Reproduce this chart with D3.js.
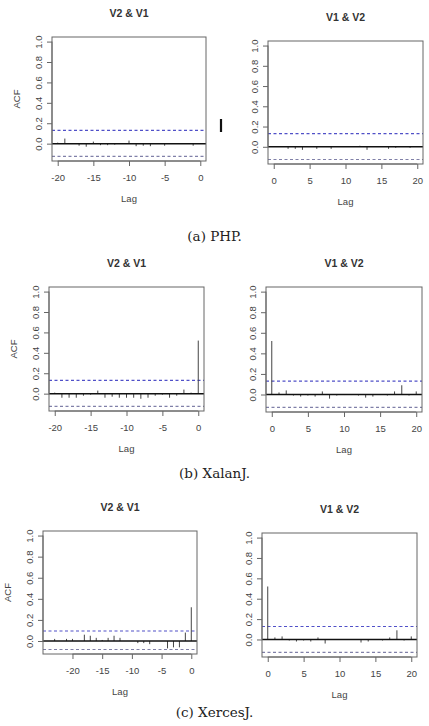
<!DOCTYPE html>
<html><head><meta charset="utf-8">
<script src="https://cdn.jsdelivr.net/npm/d3@7"></script>
<style>
html,body{margin:0;padding:0;background:#fff;}
svg{display:block;}
</style></head>
<body>
<svg id="chart" width="429" height="726"></svg>
<script>
// ---- data ----
const captions = ["(a) PHP.", "(b) XalanJ.", "(c) XercesJ."];
const titles = ["V2 & V1", "V1 & V2"];
const lagsNeg20 = d3.range(-20, 1);
const lagsPos20 = d3.range(0, 21);
const lagsNeg24 = d3.range(-24, 1);
const ticksNeg = [-20, -15, -10, -5, 0];
const ticksPos = [0, 5, 10, 15, 20];
const yTicks = [0, 0.2, 0.4, 0.6, 0.8, 1.0];

const phpV2V1 = [0.01, 0.05, 0.005, -0.02, -0.03, 0.02, -0.015, -0.015, -0.01, 0, 0.03, -0.025, -0.02, -0.025, 0, -0.02, 0, 0, 0, -0.02, 0.005];
const phpV1V2 = [0.005, 0, -0.02, -0.02, -0.03, 0, -0.02, 0, -0.02, 0, 0, 0, 0.01, -0.03, 0, 0, -0.02, -0.01, 0, -0.01, 0];
const xalanV2V1 = [0.01, -0.04, -0.04, -0.04, -0.02, -0.01, 0.03, -0.04, -0.03, -0.04, -0.04, -0.04, -0.05, -0.04, -0.02, -0.01, -0.04, -0.02, 0.04, 0.01, 0.52];
const xalanV1V2 = [0.52, 0.02, 0.04, -0.01, -0.02, -0.01, -0.02, 0.03, -0.04, -0.01, -0.005, -0.005, -0.01, -0.03, -0.02, -0.005, -0.01, 0.03, 0.09, -0.01, 0.03];
const xercesV2V1 = [0, 0.02, 0, 0.02, 0.02, 0, 0.06, 0.05, 0.03, 0.01, 0.03, 0.05, 0.03, 0, 0, -0.02, -0.02, -0.03, 0, 0, -0.07, -0.06, -0.06, 0.08, 0.32];
const xercesV1V2 = [0.52, 0.02, 0.03, -0.01, -0.02, -0.01, -0.02, 0.02, -0.04, 0, 0, 0, 0, -0.03, -0.02, 0, -0.01, 0.02, 0.09, -0.01, 0.03];
const ciUpper = [0.13, 0.13, 0.13, 0.13, 0.095, 0.127];
const ciLower = [-0.125, -0.125, -0.125, -0.125, -0.08, -0.127];

// ---- layout ----
const panels = [
  {lags: lagsNeg20, vals: phpV2V1, ticks: ticksNeg, title: titles[0], box: [52, 206, 37, 161], acf: true},
  {lags: lagsPos20, vals: phpV1V2, ticks: ticksPos, title: titles[1], box: [268, 423, 41, 164], acf: false},
  {lags: lagsNeg20, vals: xalanV2V1, ticks: ticksNeg, title: titles[0], box: [49, 204, 287, 411], acf: true},
  {lags: lagsPos20, vals: xalanV1V2, ticks: ticksPos, title: titles[1], box: [266, 422, 287, 412], acf: false},
  {lags: lagsNeg24, vals: xercesV2V1, ticks: ticksNeg, title: titles[0], box: [43, 197, 531, 654], acf: true},
  {lags: lagsPos20, vals: xercesV1V2, ticks: ticksPos, title: titles[1], box: [262, 417, 533, 657], acf: false}
];
const captionY = [241, 478, 717];

const svg = d3.select("#chart");
const sans = "'Liberation Sans', Arial, Helvetica, sans-serif";
const txt = "#444";

panels.forEach((p, i) => {
  const [x0, x1, y0, y1] = p.box;
  const lmin = d3.min(p.lags), lmax = d3.max(p.lags);
  const xr = lmax - lmin;
  const x = d3.scaleLinear().domain([lmin - 0.04 * xr, lmax + 0.04 * xr]).range([x0, x1]);
  const lo = Math.min(ciLower[i], d3.min(p.vals));
  const yr = 1 - lo;
  const y = d3.scaleLinear().domain([lo - 0.04 * yr, 1 + 0.04 * yr]).range([y1, y0]);
  const g = svg.append("g");

  // CI lines
  g.append("line").attr("x1", x0).attr("x2", x1).attr("y1", y(ciUpper[i])).attr("y2", y(ciUpper[i]))
    .attr("stroke", "#5050c8").attr("stroke-width", 1.1).attr("stroke-dasharray", "3,2.5");
  g.append("line").attr("x1", x0).attr("x2", x1).attr("y1", y(ciLower[i])).attr("y2", y(ciLower[i]))
    .attr("stroke", "#8080a8").attr("stroke-width", 1.1).attr("stroke-dasharray", "3,2.5");

  // bars
  g.selectAll("line.bar").data(p.lags.map((l, k) => ({l, v: p.vals[k]}))).enter()
    .append("line").attr("class", "bar")
    .attr("x1", d => x(d.l)).attr("x2", d => x(d.l))
    .attr("y1", y(0)).attr("y2", d => y(d.v))
    .attr("stroke", "#444").attr("stroke-width", 1);

  // zero line
  g.append("line").attr("x1", x0).attr("x2", x1).attr("y1", y(0)).attr("y2", y(0))
    .attr("stroke", "#111").attr("stroke-width", 1.5);

  // box
  g.append("rect").attr("x", x0).attr("y", y0).attr("width", x1 - x0).attr("height", y1 - y0)
    .attr("fill", "none").attr("stroke", "#666").attr("stroke-width", 1);

  // x axis
  const xa = g.append("g").attr("transform", `translate(0,${y1})`)
    .call(d3.axisBottom(x).tickValues(p.ticks).tickSize(5).tickPadding(8).tickFormat(d3.format("d")));
  xa.select(".domain").attr("d", `M${x(p.ticks[0])},0H${x(p.ticks[p.ticks.length - 1])}`).attr("stroke", "#666");
  xa.selectAll(".tick line").attr("stroke", "#666");
  xa.selectAll("text").attr("font-family", sans).attr("font-size", 9.5).attr("fill", txt)
    .text(d => d < 0 ? "-" + Math.abs(d) : d);

  // y axis
  const ya = g.append("g").attr("transform", `translate(${x0},0)`)
    .call(d3.axisLeft(y).tickValues(yTicks).tickSize(5).tickPadding(0).tickFormat(d3.format(".1f")));
  ya.select(".domain").attr("d", `M0,${y(0)}V${y(1)}`).attr("stroke", "#666");
  ya.selectAll(".tick line").attr("stroke", "#666");
  ya.selectAll("text").attr("font-family", sans).attr("font-size", 9.5).attr("fill", txt)
    .attr("x", null).attr("dy", null)
    .attr("text-anchor", "middle")
    .attr("transform", "translate(-13,0) rotate(-90)")
    .attr("dy", "0.35em");

  // title
  g.append("text").attr("x", (x0 + x1) / 2).attr("y", y0 - 20).attr("text-anchor", "middle")
    .attr("font-family", sans).attr("font-weight", "bold").attr("font-size", 10.5).attr("fill", "#333")
    .text(p.title);
  // Lag label
  g.append("text").attr("x", (x0 + x1) / 2).attr("y", y1 + 41).attr("text-anchor", "middle")
    .attr("font-family", sans).attr("font-size", 9.5).attr("fill", txt).text("Lag");
  if (p.acf) {
    g.append("text").attr("transform", `translate(${x0 - 32},${(y0 + y1) / 2}) rotate(-90)`)
      .attr("text-anchor", "middle").attr("font-family", sans).attr("font-size", 9.5).attr("fill", txt).text("ACF");
  }
});

// captions
captions.forEach((c, i) => {
  svg.append("text").attr("x", 214.5).attr("y", captionY[i]).attr("text-anchor", "middle")
    .attr("font-family", "'DejaVu Serif', 'Liberation Serif', serif").attr("font-size", 13.5).attr("fill", "#222")
    .text(c);
});

// stray mark between PHP panels
svg.append("line").attr("x1", 221).attr("x2", 221).attr("y1", 119).attr("y2", 132)
  .attr("stroke", "#111").attr("stroke-width", 2.2);
</script>
</body></html>
